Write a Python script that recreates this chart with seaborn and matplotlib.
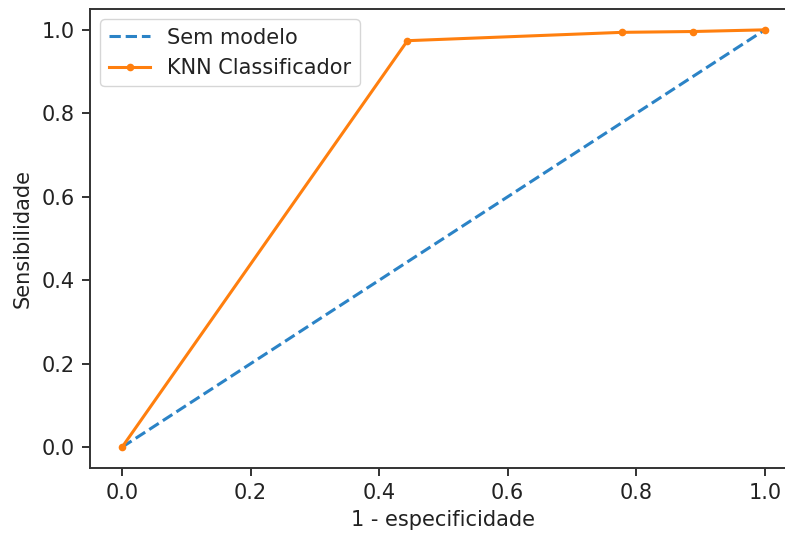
import matplotlib
matplotlib.use("Agg")
import matplotlib.pyplot as plt
import seaborn as sns
import pandas as pd

# Data
base_fpr = [0.0, 1.0]
base_tpr = [0.0, 1.0]
knn_fpr = [0.0, 0.444, 0.778, 0.889, 1.0]
knn_tpr = [0.0, 0.974, 0.994, 0.996, 1.0]

plt.rcParams['font.family'] = ['DejaVu Sans']
fs = 15

fig = plt.figure(figsize=(7.85, 5.34), dpi=100)
ax = fig.add_axes([0.1146, 0.1236, 0.9006, 0.8596])

df_base = pd.DataFrame({"fpr": base_fpr, "tpr": base_tpr})
df_knn = pd.DataFrame({"fpr": knn_fpr, "tpr": knn_tpr})

sns.lineplot(data=df_base, x="fpr", y="tpr", ax=ax, color="#2b83c6",
             linestyle="--", linewidth=2.2, label="Sem modelo", sort=False)
sns.lineplot(data=df_knn, x="fpr", y="tpr", ax=ax, color="#ff7f0e",
             marker=".", markersize=11, markeredgewidth=0, linewidth=2.2,
             label="KNN Classificador", sort=False)

ax.set_xlim(-0.05, 1.05)
ax.set_ylim(-0.05, 1.05)
ax.set_xticks([0.0, 0.2, 0.4, 0.6, 0.8, 1.0])
ax.set_yticks([0.0, 0.2, 0.4, 0.6, 0.8, 1.0])
ax.set_xticklabels(["0.0", "0.2", "0.4", "0.6", "0.8", "1.0"])
ax.set_yticklabels(["0.0", "0.2", "0.4", "0.6", "0.8", "1.0"])
ax.tick_params(labelsize=fs, length=6, width=1.3, colors="#222222", pad=5)
ax.set_xlabel("1 - especificidade", fontsize=fs, color="#222222", labelpad=5)
ax.set_ylabel("Sensibilidade", fontsize=fs, color="#222222", labelpad=6)
for sp in ax.spines.values():
    sp.set_linewidth(1.4)
    sp.set_color("#333333")

leg = ax.legend(loc="upper left", fontsize=fs, frameon=True)
for t in leg.get_texts():
    t.set_color("#222222")

fig.savefig("out.png", dpi=100)
